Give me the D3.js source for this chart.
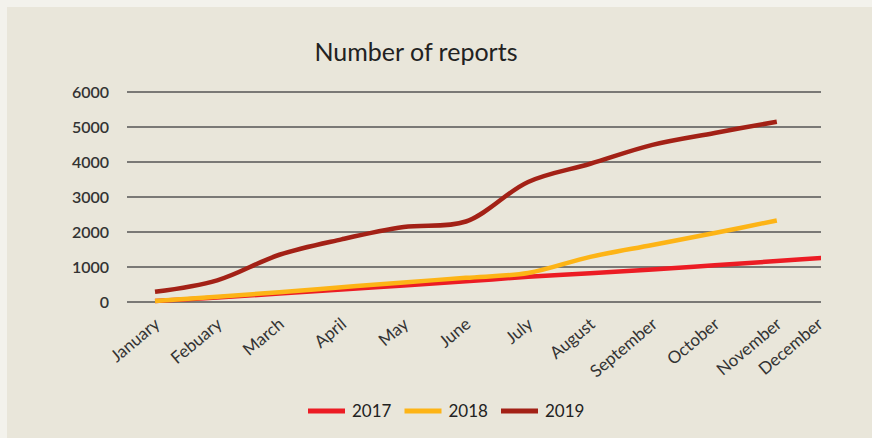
<!DOCTYPE html>
<html>
<head>
<meta charset="utf-8">
<script src="https://cdn.jsdelivr.net/npm/d3@7"></script>
<style>
  body { margin: 0; background: #f3f2ec; }
  svg { display: block; font-family: Lato, "Open Sans", sans-serif; }
</style>
</head>
<body>
<div id="chart"></div>
<script>
var w = 872;
var h = 438;

// Chart data
var months = ["January", "Febuary", "March", "April", "May", "June", "July",
              "August", "September", "October", "November", "December"];
var yTicks = [0, 1000, 2000, 3000, 4000, 5000, 6000];
var years = ["2017", "2018", "2019"];
var colors = ["#ec1c24", "#fdb416", "#a32116"];

var values2017 = [30, 130, 240, 360, 470, 590, 720, 820, 930, 1050, 1170, 1290];
var values2018 = [30, 150, 280, 420, 560, 690, 830, 1290, 1630, 1970, 2330];
var values2019 = [290, 620, 1350, 1790, 2140, 2300, 3430, 3950, 4490, 4830, 5150];

var seriesValues = [values2017, values2018, values2019];

var margin = { top: 92, right: 51, bottom: 136, left: 127 };
var width = w - margin.left - margin.right;
var height = h - margin.top - margin.bottom;

var svg = d3.select("#chart")
    .append("svg")
    .attr("width", w)
    .attr("height", h);

// Panel background
svg.append("rect")
    .attr("x", 7)
    .attr("y", 7)
    .attr("width", w - 7)
    .attr("height", h - 7)
    .attr("fill", "#e9e6da");

// Title
svg.append("text")
    .attr("x", 416)
    .attr("y", 61)
    .attr("text-anchor", "middle")
    .attr("fill", "#222")
    .style("font-size", "25px")
    .text("Number of reports");

var g = svg.append("g")
    .attr("transform", "translate(" + margin.left + "," + margin.top + ")");

// Scales: December sits just past the plot edge
var xScale = d3.scalePoint()
    .domain(months)
    .range([28, 712]);

var yScale = d3.scaleLinear()
    .domain([0, 6000])
    .range([height, 0]);

// Gridlines
g.selectAll(".grid")
    .data(yTicks)
    .enter()
    .append("line")
    .attr("x1", 0)
    .attr("x2", width)
    .attr("y1", function(d) { return yScale(d); })
    .attr("y2", function(d) { return yScale(d); })
    .attr("stroke", "#555")
    .attr("stroke-width", 1.6);

// Y axis labels
var yAxis = g.append("g")
    .call(d3.axisLeft(yScale).tickValues(yTicks).tickSize(0).tickPadding(18).tickFormat(d3.format("d")));
yAxis.select(".domain").remove();
yAxis.selectAll("text")
    .attr("fill", "#333")
    .style("font-size", "16px")
    .style("font-weight", "600")
    .style("font-family", "Lato, sans-serif");

// X axis labels, rotated
var xAxis = g.append("g")
    .attr("transform", "translate(0," + height + ")")
    .call(d3.axisBottom(xScale).tickSize(0));
xAxis.select(".domain").remove();
xAxis.selectAll(".tick")
    .attr("transform", function(d) {
        var x = Math.min(xScale(d), width - 3);
        return "translate(" + x + ",0)";
    });
xAxis.selectAll("text")
    .attr("fill", "#333")
    .attr("text-anchor", "end")
    .attr("x", 0)
    .attr("y", 0)
    .attr("dy", 0)
    .attr("transform", "translate(6,24) rotate(-40)")
    .style("font-size", "17px")
    .style("font-family", "Lato, sans-serif");

// Clip lines to the plot area
svg.append("clipPath")
    .attr("id", "plot-clip")
    .append("rect")
    .attr("x", 0)
    .attr("y", -10)
    .attr("width", width)
    .attr("height", height + 20);

var line = d3.line()
    .x(function(d, i) { return xScale(months[i]); })
    .y(function(d) { return yScale(d); })
    .curve(d3.curveCatmullRom.alpha(0.5));

g.selectAll(".series")
    .data(seriesValues)
    .enter()
    .append("path")
    .attr("class", "series")
    .attr("clip-path", "url(#plot-clip)")
    .attr("d", line)
    .style("fill", "none")
    .style("stroke", function(d, i) { return colors[i]; })
    .style("stroke-width", 4.5);

// Legend
var legend = svg.append("g")
    .attr("transform", "translate(308,411)");

var item = legend.selectAll(".legend-item")
    .data(years)
    .enter()
    .append("g")
    .attr("transform", function(d, i) { return "translate(" + (i * 96.5) + ",0)"; });

item.append("line")
    .attr("x1", 0)
    .attr("x2", 37)
    .attr("y1", 0)
    .attr("y2", 0)
    .attr("stroke", function(d, i) { return colors[i]; })
    .attr("stroke-width", 5);

item.append("text")
    .attr("x", 44)
    .attr("y", 6)
    .attr("fill", "#222")
    .style("font-size", "17px")
    .text(function(d) { return d; });
</script>
</body>
</html>
